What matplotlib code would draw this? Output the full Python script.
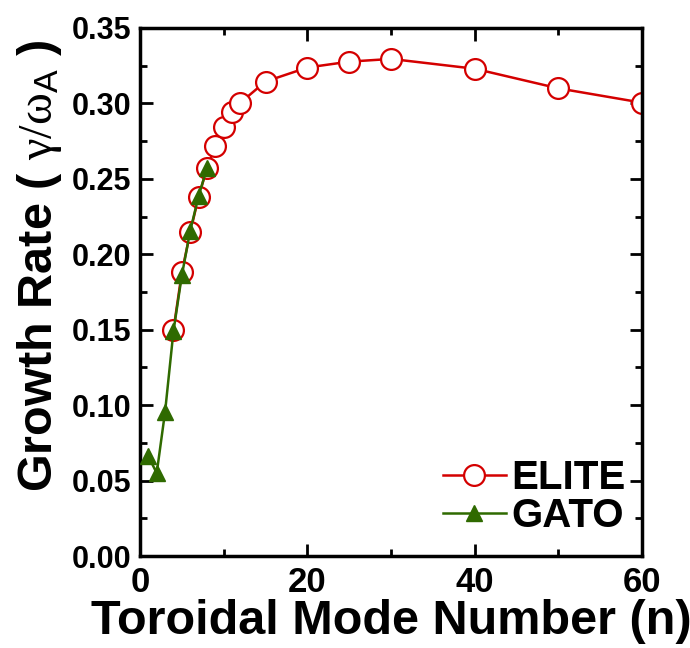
import matplotlib
matplotlib.use('Agg')
import matplotlib.pyplot as plt
from matplotlib.ticker import MultipleLocator

# ELITE growth rates
elite_n = [4, 5, 6, 7, 8, 9, 10, 11, 12, 15, 20, 25, 30, 40, 50, 60]
elite_gamma = [0.150, 0.188, 0.2145, 0.238, 0.257, 0.272, 0.2846, 0.294, 0.3005,
               0.3145, 0.3238, 0.3277, 0.3295, 0.323, 0.310, 0.3005]

# GATO growth rates
gato_n = [1, 2, 3, 4, 5, 6, 7, 8]
gato_gamma = [0.066, 0.055, 0.0957, 0.149, 0.186, 0.2155, 0.2385, 0.257]

plt.rcParams['font.family'] = ['Liberation Sans', 'DejaVu Sans']
plt.rcParams['font.weight'] = 'bold'
plt.rcParams['mathtext.fontset'] = 'custom'
plt.rcParams['mathtext.rm'] = 'Liberation Serif:weight=normal'
plt.rcParams['mathtext.it'] = 'Liberation Serif:weight=normal'
plt.rcParams['mathtext.sf'] = 'Liberation Sans:weight=normal'

fig = plt.figure(figsize=(6.9, 6.48), dpi=100)
ax = fig.add_axes([140 / 690, 1 - 556 / 648, 502 / 690, 528 / 648])

red = '#d40000'
green = '#2f6a00'

ax.plot(elite_n, elite_gamma, color=red, lw=1.8, marker='o', ms=15,
        mfc='white', mec=red, mew=1.6, label='ELITE', zorder=2)
ax.plot(gato_n, gato_gamma, color=green, lw=1.8, marker='^', ms=12,
        mfc=green, mec=green, label='GATO', zorder=3)

ax.set_xlim(0, 60)
ax.set_ylim(0, 0.35)
ax.xaxis.set_major_locator(MultipleLocator(20))
ax.xaxis.set_minor_locator(MultipleLocator(10))
ax.yaxis.set_major_locator(MultipleLocator(0.05))
ax.yaxis.set_minor_locator(MultipleLocator(0.025))
ax.yaxis.set_major_formatter(plt.FuncFormatter(lambda v, p: f'{v:.2f}'))

ax.tick_params(which='both', direction='in', top=True, right=True, width=2)
ax.tick_params(which='major', length=9)
ax.tick_params(which='minor', length=5)
ax.tick_params(axis='x', labelsize=25, pad=7)
ax.tick_params(axis='y', labelsize=22, pad=6)
for sp in ax.spines.values():
    sp.set_linewidth(2.5)

ax.set_xlabel('Toroidal Mode Number (n)', fontsize=35, fontweight='bold', labelpad=0)
ax.set_ylabel(r'Growth Rate ( $\gamma/\omega_{\mathsf{A}}$ )', fontsize=35,
              fontweight='bold', labelpad=6)
ax.yaxis.label.set_y(0.55)

ax.legend(loc='lower right', frameon=False, fontsize=29, handlelength=1.55,
          handletextpad=0.15, labelspacing=0.0, borderaxespad=0.0,
          bbox_to_anchor=(1.0, 0.01))

fig.savefig('out.png', dpi=100)
